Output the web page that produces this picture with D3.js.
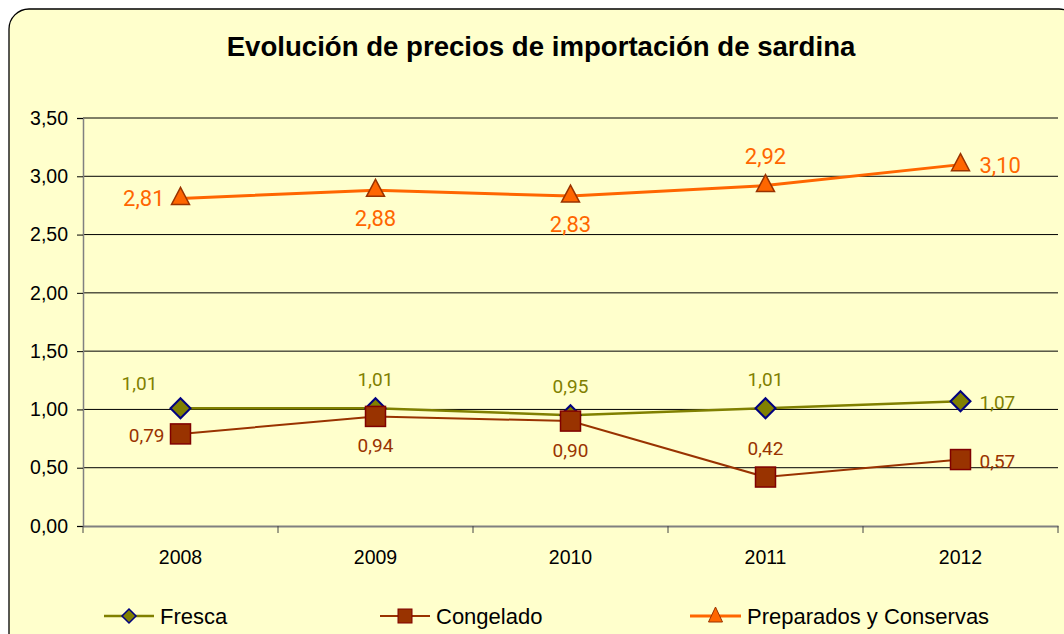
<!DOCTYPE html>
<html><head><meta charset="utf-8">
<script src="https://cdn.jsdelivr.net/npm/d3@7"></script>
<style>body{margin:0;background:#fff;}svg{display:block;}</style>
</head><body>
<svg id="c" width="1064" height="634"></svg>
<script>
const categories = ["2008","2009","2010","2011","2012"];
const fresca = [1.01, 1.01, 0.95, 1.01, 1.07];
const congelado = [0.79, 0.94, 0.90, 0.42, 0.57];
const preparados = [2.81, 2.88, 2.83, 2.92, 3.10];
const yTicks = [0, 0.5, 1, 1.5, 2, 2.5, 3, 3.5];
const seriesNames = ["Fresca", "Congelado", "Preparados y Conservas"];
const title = "Evolución de precios de importación de sardina";

const svg = d3.select("#c");
const narrow = "'Liberation Sans',Arial,sans-serif";
const labelFont = "Roboto,'Noto Sans',sans-serif";

svg.append("rect").attr("x",9).attr("y",9).attr("width",1070).attr("height",650)
  .attr("rx",20).attr("fill","#FFFFCC").attr("stroke","#000").attr("stroke-width",1.3);

svg.append("text").attr("x",541).attr("y",56).attr("text-anchor","middle")
  .attr("font-family","'Liberation Sans',Arial,sans-serif").attr("font-weight","bold")
  .attr("font-size",27.6).attr("fill","#000").text(title);

const x = d3.scaleBand().domain(categories).range([83,1058]);
const y = d3.scaleLinear().domain([0,3.5]).range([526,118]);
const cx = c => x(c) + x.bandwidth()/2;

svg.append("g").selectAll("line").data(yTicks.filter(t=>t>0)).join("line")
  .attr("x1",83).attr("x2",1058).attr("y1",d=>y(d)).attr("y2",d=>y(d))
  .attr("stroke","#000").attr("stroke-width",1);

const fmt = v => d3.format(".2f")(v).replace(".",",");

const ya = svg.append("g").attr("transform","translate(83,0)")
  .call(d3.axisLeft(y).tickValues(yTicks).tickFormat(fmt).tickSize(6).tickPadding(9));
ya.select(".domain").attr("stroke","#808080").attr("stroke-width",1.5);
ya.selectAll(".tick line").attr("stroke","#000");
ya.selectAll("text").attr("font-family",narrow).attr("font-size",19.5).attr("fill","#000");

const xa = svg.append("g").attr("transform","translate(0,526)")
  .call(d3.axisBottom(x).tickSize(0).tickPadding(24));
xa.select(".domain").attr("stroke","#808080").attr("stroke-width",2);
xa.selectAll("text").attr("font-family",narrow).attr("font-size",19.5).attr("fill","#000");
svg.append("g").selectAll("line").data(d3.range(categories.length+1)).join("line")
  .attr("x1",i=>83+i*x.step()).attr("x2",i=>83+i*x.step())
  .attr("y1",526).attr("y2",533).attr("stroke","#444");

const line = d3.line().x((d,i)=>cx(categories[i])).y(d=>y(d));

const series = [
  {name:seriesNames[0], vals:fresca, color:"#808000", lw:2.5, marker:"diamond", fill:"#808000", mstroke:"#000080", lab:"#808000", fs:19,
   pos:["ul","u","u","u","r"]},
  {name:seriesNames[1], vals:congelado, color:"#993300", lw:2, marker:"square", fill:"#993300", mstroke:"#800000", lab:"#993300", fs:19,
   pos:["l","d","d","u","r"]},
  {name:seriesNames[2], vals:preparados, color:"#FF6600", lw:3, marker:"triangle", fill:"#FF6600", mstroke:"#993300", lab:"#FF6600", fs:22,
   pos:["l","d","d","u","r"]}
];

function drawMarker(g, type, px, py, s) {
  if (type==="diamond") {
    g.append("path").attr("d",`M${px},${py-10}L${px+10},${py}L${px},${py+10}L${px-10},${py}Z`)
      .attr("fill",s.fill).attr("stroke",s.mstroke).attr("stroke-width",2);
  } else if (type==="square") {
    g.append("rect").attr("x",px-10).attr("y",py-10).attr("width",20).attr("height",20)
      .attr("fill",s.fill).attr("stroke",s.mstroke).attr("stroke-width",1.5);
  } else {
    g.append("path").attr("d",`M${px},${py-11}L${px+9},${py+6}L${px-9},${py+6}Z`)
      .attr("fill",s.fill).attr("stroke",s.mstroke).attr("stroke-width",1.5);
  }
}

series.forEach(s=>{
  svg.append("path").datum(s.vals).attr("d",line).attr("fill","none")
    .attr("stroke",s.color).attr("stroke-width",s.lw);
});
series.forEach(s=>{
  const g = svg.append("g");
  s.vals.forEach((v,i)=>drawMarker(g, s.marker, cx(categories[i]), y(v), s));
});
series.forEach(s=>{
  s.vals.forEach((v,i)=>{
    const px = cx(categories[i]), py = y(v);
    let tx=px, ty=py, anchor="middle";
    const p = s.pos[i];
    if (p==="u") { ty = py - 22; }
    else if (p==="d") { ty = py + 36; }
    else if (p==="ul") { tx = px - 41; ty = py - 18; }
    else if (p==="l") { tx = px - 16; ty = py + 8; anchor="end"; }
    else if (p==="r") { tx = px + 19; ty = py + 8; anchor="start"; }
    svg.append("text").attr("x",tx).attr("y",ty).attr("text-anchor",anchor)
      .attr("font-family",labelFont).attr("font-size",s.fs).attr("fill",s.lab).text(fmt(v));
  });
});

const legX = [104, 380, 690];
const legW = [50, 50, 51];
series.forEach((s,i)=>{
  const g = svg.append("g");
  const ly = 616;
  g.append("line").attr("x1",legX[i]).attr("x2",legX[i]+legW[i]).attr("y1",ly).attr("y2",ly)
    .attr("stroke",s.color).attr("stroke-width",s.lw);
  const mx = legX[i]+legW[i]/2;
  if (s.marker==="diamond") {
    g.append("path").attr("d",`M${mx},${ly-7}L${mx+7},${ly}L${mx},${ly+7}L${mx-7},${ly}Z`)
      .attr("fill",s.fill).attr("stroke",s.mstroke).attr("stroke-width",1.5);
  } else if (s.marker==="square") {
    g.append("rect").attr("x",mx-7).attr("y",ly-7).attr("width",14).attr("height",14)
      .attr("fill",s.fill).attr("stroke",s.mstroke).attr("stroke-width",1);
  } else {
    g.append("path").attr("d",`M${mx},${ly-9}L${mx+7},${ly+6}L${mx-7},${ly+6}Z`)
      .attr("fill",s.fill).attr("stroke",s.mstroke).attr("stroke-width",1);
  }
  g.append("text").attr("x",legX[i]+legW[i]+6).attr("y",ly+8)
    .attr("font-family","'Liberation Sans',Arial,sans-serif").attr("font-size",22).attr("fill","#000").text(s.name);
});
</script>
</body></html>
